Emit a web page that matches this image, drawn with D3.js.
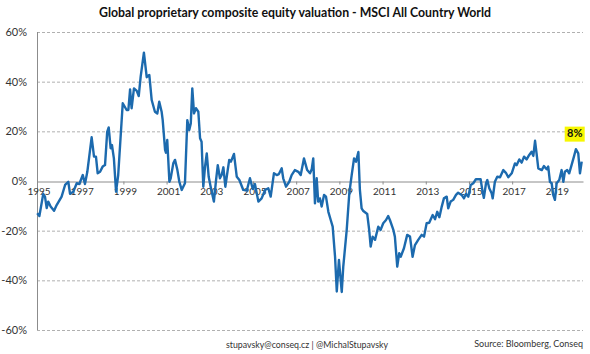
<!DOCTYPE html>
<html>
<head>
<meta charset="utf-8">
<script src="https://cdn.jsdelivr.net/npm/d3@7"></script>
<style>
    body { margin: 0; background: #fff; }
    text { font-family: Lato, "Open Sans", sans-serif; }
    .grid line { stroke: #b0b0b0; stroke-dasharray: 3,2; }
    .xaxis path, .xaxis line { stroke: #8c8c8c; }
    .xaxis text { font-size: 10px; fill: #333; }
    .ylab { font-size: 11px; fill: #333; }
</style>
</head>
<body>
<div id="chart"></div>
<script>
// data (decimal year, valuation in %)
var dates = [
    1995.01, 1995.11, 1995.29, 1995.37, 1995.45, 1995.52, 1995.63, 1995.79, 1995.91, 1996.14,
    1996.30, 1996.45, 1996.53, 1996.68, 1996.84, 1996.96, 1997.12, 1997.22, 1997.33, 1997.53,
    1997.64, 1997.73, 1997.81, 1997.92, 1998.04, 1998.15, 1998.25, 1998.32, 1998.41, 1998.47,
    1998.56, 1998.66, 1998.76, 1998.97, 1999.15, 1999.23, 1999.31, 1999.38, 1999.49, 1999.62,
    1999.71, 1999.80, 1999.95, 2000.08, 2000.20, 2000.31, 2000.46, 2000.57, 2000.66, 2000.77,
    2000.82, 2000.93, 2000.97, 2001.03, 2001.13, 2001.19, 2001.31, 2001.39, 2001.50, 2001.59,
    2001.70, 2001.85, 2001.96, 2002.05, 2002.12, 2002.19, 2002.27, 2002.36, 2002.47, 2002.55,
    2002.62, 2002.70, 2002.78, 2002.86, 2002.95, 2003.04, 2003.19, 2003.29, 2003.37, 2003.47,
    2003.55, 2003.63, 2003.72, 2003.83, 2003.90, 2003.98, 2004.12, 2004.25, 2004.37, 2004.55,
    2004.71, 2004.86, 2004.99, 2005.09, 2005.25, 2005.40, 2005.56, 2005.71, 2005.82, 2005.97,
    2006.10, 2006.20, 2006.33, 2006.40, 2006.53, 2006.68, 2006.79, 2006.94, 2007.10, 2007.21,
    2007.36, 2007.51, 2007.64, 2007.72, 2007.79, 2007.87, 2007.95, 2008.02, 2008.10, 2008.18,
    2008.29, 2008.38, 2008.49, 2008.60, 2008.69, 2008.80, 2008.88, 2008.98, 2009.11, 2009.18,
    2009.34, 2009.46, 2009.57, 2009.68, 2009.77, 2009.88, 2009.95, 2010.03, 2010.11, 2010.29,
    2010.38, 2010.45, 2010.54, 2010.65, 2010.80, 2010.91, 2011.03, 2011.16, 2011.26, 2011.34,
    2011.50, 2011.57, 2011.68, 2011.77, 2011.84, 2011.99, 2012.14, 2012.27, 2012.39, 2012.50,
    2012.65, 2012.81, 2012.92, 2013.04, 2013.16, 2013.32, 2013.43, 2013.53, 2013.63, 2013.74,
    2013.84, 2013.97, 2014.04, 2014.15, 2014.27, 2014.40, 2014.50, 2014.66, 2014.77, 2014.86,
    2014.97, 2015.08, 2015.20, 2015.32, 2015.54, 2015.63, 2015.69, 2015.79, 2015.85, 2015.94,
    2016.05, 2016.10, 2016.20, 2016.31, 2016.44, 2016.59, 2016.71, 2016.82, 2016.98, 2017.13,
    2017.21, 2017.33, 2017.44, 2017.55, 2017.67, 2017.79, 2017.90, 2017.98, 2018.06, 2018.13,
    2018.21, 2018.37, 2018.47, 2018.60, 2018.67, 2018.75, 2018.83, 2018.90, 2018.98, 2019.06,
    2019.18, 2019.29, 2019.37, 2019.44, 2019.55, 2019.64, 2019.75, 2019.86, 2019.95, 2020.06,
    2020.14, 2020.22
];
var valuation = [
    -13.0, -14.1, -5.2, -6.3, -10.9, -8.3, -10.3, -12.0, -9.7, -6.3,
    -1.6, -0.3, -5.2, -4.3, -0.9, -1.2, 2.4, -1.2, 3.7, 17.6,
    9.8, 9.8, 3.1, 3.7, 5.8, 6.4, 19.8, 21.6, 13.2, 14.5,
    9.1, -4.3, 2.4, 31.3, 28.6, 28.6, 36.9, 29.3, 37.3, 36.3,
    34.2, 42.0, 51.7, 41.8, 42.7, 32.6, 27.9, 27.2, 31.9, 27.9,
    24.5, 12.5, 11.4, 16.5, -0.3, 1.1, 7.1, 8.5, 4.4, -0.3,
    -3.6, -0.9, 24.5, 20.5, 23.2, 37.3, 27.2, 29.3, 27.9, 17.2,
    15.8, -2.3, 5.8, 11.1, 1.7, -2.3, -8.3, 0.4, 6.4, 1.1,
    2.4, 5.5, -2.3, 4.4, 8.5, 7.8, 10.9, 1.7, 0.4, -3.6,
    -3.9, 1.1, -3.2, -1.2, -8.3, -7.0, -3.6, -2.9, -6.3, 3.1,
    2.4, 2.8, 5.1, 1.1, -2.3, -0.3, 2.4, 4.4, 3.7, 2.4,
    9.1, 4.4, 3.1, 4.7, 9.1, -9.0, 1.1, -8.3, -7.0, -10.3,
    -5.6, -6.3, -12.4, -15.7, -18.4, -30.5, -44.5, -31.8, -44.7, -34.5,
    -19.7, -4.9, 2.4, 9.1, 7.8, 11.7, -3.6, -11.0, -12.1, -13.3,
    -19.7, -26.4, -22.4, -23.7, -18.4, -19.7, -17.0, -15.7, -14.1, -15.7,
    -19.7, -22.4, -34.5, -29.1, -30.5, -27.1, -21.7, -22.4, -30.5, -25.8,
    -23.7, -21.7, -22.4, -17.0, -16.8, -13.7, -15.4, -12.4, -14.6, -10.3,
    -7.0, -6.3, -11.0, -8.3, -7.6, -5.6, -4.7, -5.6, -7.0, -5.2,
    -6.3, -1.6, -0.9, 0.7, 0.7, -4.3, -6.8, -0.9, 0.4, -2.9,
    -4.9, -7.0, -0.3, 1.7, 1.5, 4.4, 3.3, 1.5, 3.1, 7.1,
    6.4, 8.7, 7.4, 9.8, 8.7, 10.5, 11.8, 10.1, 16.2, 11.1,
    5.1, 4.4, 6.0, 4.7, 5.8, -0.3, -0.9, -5.6, -7.6, -0.9,
    0.4, 4.4, -0.3, 3.7, 4.4, 3.1, 6.4, 9.8, 12.8, 11.1,
    3.1, 7.8
];
var yTicks = [-60, -40, -20, 0, 20, 40, 60];
var yearTicks = [1995, 1997, 1999, 2001, 2003, 2005, 2007, 2009, 2011, 2013, 2015, 2017, 2019];

var title = 'Global proprietary composite equity valuation - MSCI All Country World';
var footLeft = 'stupavsky@conseq.cz |  @MichalStupavsky';
var footRight = 'Source: Bloomberg, Conseq';

var data = dates.map((d, i) => ({ date: d, value: valuation[i] }));

var width = 590, height = 354;
var svg = d3.select('#chart').append('svg')
    .attr('width', width)
    .attr('height', height);

var x = d3.scaleLinear().domain([1995, 2020.28]).range([37, 583]);
var y = d3.scaleLinear().domain([-60, 60]).range([330, 32]);

// gridlines (dashed), except zero
svg.append('g')
    .attr('class', 'grid')
    .selectAll('line')
    .data(yTicks.filter(d => d !== 0))
    .enter()
    .append('line')
    .attr('x1', x(1995))
    .attr('x2', x.range()[1])
    .attr('y1', d => y(d) + 0.5)
    .attr('y2', d => y(d) + 0.5);

// vertical axis line
svg.append('line')
    .attr('x1', x(1995) + 0.5)
    .attr('x2', x(1995) + 0.5)
    .attr('y1', y(60))
    .attr('y2', y(-60))
    .attr('stroke', '#8c8c8c');

// y labels
svg.append('g')
    .selectAll('text')
    .data(yTicks)
    .enter()
    .append('text')
    .attr('class', 'ylab')
    .attr('x', 27)
    .attr('y', d => y(d))
    .attr('dy', '0.35em')
    .attr('text-anchor', 'end')
    .text(d => d + '%');

// x axis on zero line
var xAxis = d3.axisBottom(x)
    .tickValues(yearTicks)
    .tickFormat(d3.format('d'))
    .tickSize(3)
    .tickSizeOuter(0)
    .tickPadding(3);

svg.append('g')
    .attr('class', 'xaxis')
    .attr('transform', 'translate(0,' + (y(0) + 0.5) + ')')
    .call(xAxis)
    .selectAll('text')
    .attr('dx', '1.5');

// series line
var line = d3.line()
    .x(d => x(d.date))
    .y(d => y(d.value));

svg.append('path')
    .datum(data)
    .attr('fill', 'none')
    .attr('stroke', '#1c6aae')
    .attr('stroke-width', 2.4)
    .attr('stroke-linejoin', 'round')
    .attr('d', line);

// last value callout
var last = data[data.length - 1];
var callout = svg.append('g')
    .attr('transform', 'translate(' + (x(last.date) - 7) + ',' + (y(last.value) - 28) + ')');
callout.append('rect')
    .attr('x', -10)
    .attr('y', -7)
    .attr('width', 20)
    .attr('height', 15)
    .attr('fill', '#f7f700');
callout.append('text')
    .attr('text-anchor', 'middle')
    .attr('dy', '0.35em')
    .style('font-size', '11px')
    .style('font-weight', 'bold')
    .attr('fill', '#111')
    .text(Math.round(last.value) + '%');

// title
svg.append('text')
    .attr('x', 295)
    .attr('y', 17)
    .attr('text-anchor', 'middle')
    .style('font-size', '13px')
    .style('font-weight', 'bold')
    .attr('fill', '#111')
    .attr('textLength', 392)
    .attr('lengthAdjust', 'spacingAndGlyphs')
    .text(title);

// footer
svg.append('text')
    .attr('x', 226)
    .attr('y', 348)
    .style('font-size', '9.5px')
    .attr('fill', '#333')
    .attr('textLength', 162)
    .attr('lengthAdjust', 'spacingAndGlyphs')
    .text(footLeft);

svg.append('text')
    .attr('x', 583)
    .attr('y', 347)
    .attr('text-anchor', 'end')
    .style('font-size', '9px')
    .attr('fill', '#333')
    .text(footRight);
</script>
</body>
</html>
